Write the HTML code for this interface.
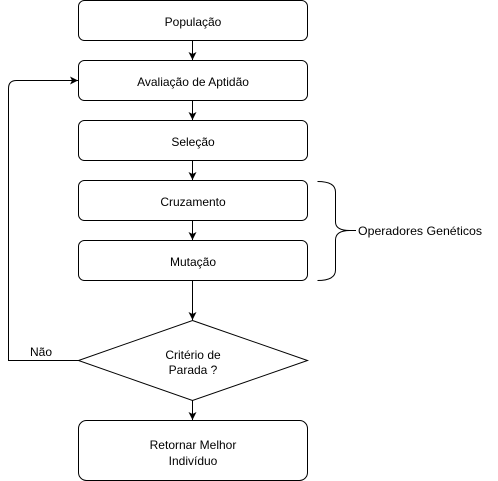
<html><body style="margin:0;background:#fff">
<svg width="498" height="481" xmlns="http://www.w3.org/2000/svg" font-family="Liberation Sans, sans-serif" font-size="12">
<defs><marker id="a" markerWidth="10" markerHeight="10" refX="8" refY="4" orient="auto" markerUnits="userSpaceOnUse"><path d="M0,0 L8,4 L0,8 L2,4 z" fill="#000"/></marker></defs>
<g fill="#fff" stroke="#000" stroke-width="1">
<rect x="78.5" y="0.5" width="229" height="40" rx="6"/>
<rect x="78.5" y="60.5" width="229" height="40" rx="6"/>
<rect x="78.5" y="120.5" width="229" height="40" rx="6"/>
<rect x="78.5" y="180.5" width="229" height="40" rx="6"/>
<rect x="78.5" y="240.5" width="229" height="40" rx="6"/>
<polygon points="192.5,320.5 307.5,360.5 192.5,400.5 78.5,360.5"/>
<rect x="78.5" y="420.5" width="229" height="60" rx="8"/>
</g>
<g stroke="#000" fill="none">
<line x1="192.5" y1="40.5" x2="192.5" y2="60" marker-end="url(#a)"/>
<line x1="192.5" y1="100.5" x2="192.5" y2="120" marker-end="url(#a)"/>
<line x1="192.5" y1="160.5" x2="192.5" y2="180" marker-end="url(#a)"/>
<line x1="192.5" y1="220.5" x2="192.5" y2="240" marker-end="url(#a)"/>
<line x1="192.5" y1="280.5" x2="192.5" y2="320" marker-end="url(#a)"/>
<line x1="192.5" y1="400.5" x2="192.5" y2="420" marker-end="url(#a)"/>
<path d="M78.5,360.5 L8.5,360.5 L8.5,88.5 Q8.5,80.5 16.5,80.5 L78,80.5" marker-end="url(#a)"/>
<path d="M317.5,181.5 Q335.5,181.5 335.5,192 L335.5,222 Q335.5,230.5 350,230.5 Q335.5,230.5 335.5,240 L335.5,270 Q335.5,280.5 317.5,280.5"/>
<line x1="350" y1="230.5" x2="356" y2="230.5"/>
</g>
<g text-anchor="middle" fill="#000">
<text x="193" y="26">População</text>
<text x="193" y="86">Avaliação de Aptidão</text>
<text x="193" y="146">Seleção</text>
<text x="193" y="206">Cruzamento</text>
<text x="193" y="266">Mutação</text>
<text x="193" y="359">Critério de</text>
<text x="193" y="374">Parada ?</text>
<text x="193" y="449">Retornar Melhor</text>
<text x="193" y="465">Indivíduo</text>
<text x="41" y="356">Não</text>
</g>
<text x="358" y="235" textLength="124" lengthAdjust="spacingAndGlyphs">Operadores Genéticos</text>
</svg>
</body></html>
